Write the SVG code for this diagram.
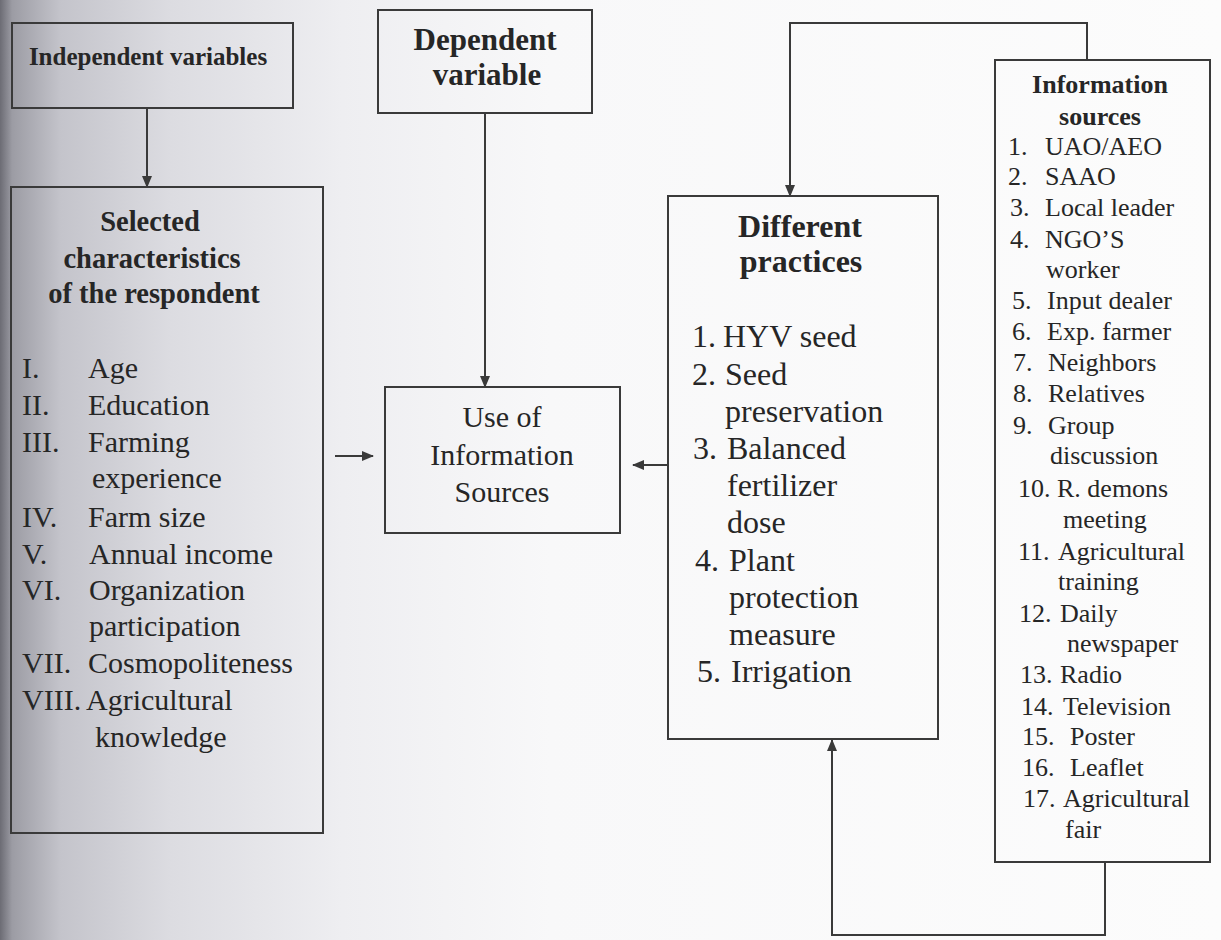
<svg xmlns="http://www.w3.org/2000/svg" width="1221" height="940" viewBox="0 0 1221 940">
  <defs>
    <linearGradient id="bg" x1="0" y1="0" x2="1" y2="0">
      <stop offset="0" stop-color="#6c6c74"/>
      <stop offset="0.01" stop-color="#9c9ca4"/>
      <stop offset="0.05" stop-color="#c4c4cb"/>
      <stop offset="0.14" stop-color="#dcdce1"/>
      <stop offset="0.28" stop-color="#eeeef1"/>
      <stop offset="0.45" stop-color="#f8f8f9"/>
      <stop offset="1" stop-color="#fcfcfc"/>
    </linearGradient>
    <marker id="arr" viewBox="0 0 12 12" refX="11" refY="6" markerWidth="12" markerHeight="12" markerUnits="userSpaceOnUse" orient="auto">
      <path d="M0,1 L12,6 L0,11 Z" fill="#3a3a3a"/>
    </marker>
    <style>
      .box { fill: none; stroke: #3a3a3a; stroke-width: 2; }
      .line { fill: none; stroke: #3a3a3a; stroke-width: 2; }
      text { font-family: "Liberation Serif", "Times New Roman", serif; fill: #262626; }
      .b { font-weight: bold; }
      .c { text-anchor: middle; }
      .l30 { font-size: 30px; }
      .p32 { font-size: 32px; }
      .s26 { font-size: 26px; }
    </style>
  </defs>
  <rect x="0" y="0" width="1221" height="940" fill="url(#bg)"/>

  <g id="connectors">
    <line class="line" x1="147" y1="108" x2="147" y2="187" marker-end="url(#arr)"/>
    <line class="line" x1="485" y1="113" x2="485" y2="387" marker-end="url(#arr)"/>
    <line class="line" x1="335" y1="456" x2="373" y2="456" marker-end="url(#arr)"/>
    <line class="line" x1="668" y1="465" x2="633" y2="465" marker-end="url(#arr)"/>
    <polyline class="line" points="1087,60 1087,23 790,23 790,196" marker-end="url(#arr)"/>
    <polyline class="line" points="1105,862 1105,935 832,935 832,740" marker-end="url(#arr)"/>
  </g>

  <g id="independent">
    <rect class="box" x="12" y="23" width="281" height="85"/>
    <text class="b c" x="148" y="65" font-size="25">Independent variables</text>
  </g>

  <g id="dependent">
    <rect class="box" x="378" y="10" width="214" height="103"/>
    <text class="b c" x="485" y="50" font-size="31">Dependent</text>
    <text class="b c" x="487" y="85" font-size="31">variable</text>
  </g>

  <g id="characteristics">
    <rect class="box" x="11" y="187" width="312" height="646"/>
    <text class="b c" x="150" y="231" font-size="28.5">Selected</text>
    <text class="b c" x="152" y="268" font-size="28.5">characteristics</text>
    <text class="b c" x="154" y="303" font-size="28.5">of the respondent</text>
    <g class="l30">
      <text x="22" y="378">I.</text><text x="88" y="378">Age</text>
      <text x="22" y="415">II.</text><text x="88" y="415">Education</text>
      <text x="22" y="452">III.</text><text x="88" y="452">Farming</text>
      <text x="92" y="488">experience</text>
      <text x="22" y="527">IV.</text><text x="88" y="527">Farm size</text>
      <text x="22" y="564">V.</text><text x="89" y="564">Annual income</text>
      <text x="22" y="600">VI.</text><text x="89" y="600">Organization</text>
      <text x="89" y="636">participation</text>
      <text x="22" y="673">VII.</text><text x="88" y="673">Cosmopoliteness</text>
      <text x="22" y="710">VIII.</text><text x="86" y="710">Agricultural</text>
      <text x="95" y="747">knowledge</text>
    </g>
  </g>

  <g id="use-of-information">
    <rect class="box" x="385" y="387" width="235" height="146"/>
    <text class="c" x="502" y="427" font-size="30">Use of</text>
    <text class="c" x="502" y="465" font-size="30">Information</text>
    <text class="c" x="502" y="502" font-size="30">Sources</text>
  </g>

  <g id="practices">
    <rect class="box" x="668" y="196" width="270" height="543"/>
    <text class="b c" x="800" y="237" font-size="32">Different</text>
    <text class="b c" x="801" y="272" font-size="32">practices</text>
    <g class="p32">
      <text x="692" y="347">1.</text><text x="723" y="347">HYV seed</text>
      <text x="692" y="385">2.</text><text x="725" y="385">Seed</text>
      <text x="725" y="422">preservation</text>
      <text x="693" y="459">3.</text><text x="727" y="459">Balanced</text>
      <text x="727" y="496">fertilizer</text>
      <text x="727" y="533">dose</text>
      <text x="695" y="571">4.</text><text x="729" y="571">Plant</text>
      <text x="729" y="608">protection</text>
      <text x="729" y="645">measure</text>
      <text x="697" y="682">5.</text><text x="731" y="682">Irrigation</text>
    </g>
  </g>

  <g id="information-sources">
    <rect class="box" x="995" y="60" width="215" height="802"/>
    <text class="b c" x="1100" y="93" font-size="26">Information</text>
    <text class="b c" x="1100" y="125" font-size="26">sources</text>
    <g class="s26">
      <text x="1008" y="155">1.</text><text x="1045" y="155">UAO/AEO</text>
      <text x="1008" y="185">2.</text><text x="1045" y="185">SAAO</text>
      <text x="1010" y="216">3.</text><text x="1045" y="216">Local leader</text>
      <text x="1010" y="248">4.</text><text x="1045" y="248">NGO’S</text>
      <text x="1046" y="278">worker</text>
      <text x="1012" y="309">5.</text><text x="1047" y="309">Input dealer</text>
      <text x="1012" y="340">6.</text><text x="1047" y="340">Exp. farmer</text>
      <text x="1013" y="371">7.</text><text x="1048" y="371">Neighbors</text>
      <text x="1013" y="402">8.</text><text x="1048" y="402">Relatives</text>
      <text x="1013" y="434">9.</text><text x="1048" y="434">Group</text>
      <text x="1050" y="464">discussion</text>
      <text x="1018" y="497">10.</text><text x="1057" y="497">R. demons</text>
      <text x="1063" y="528">meeting</text>
      <text x="1018" y="560">11.</text><text x="1058" y="560">Agricultural</text>
      <text x="1058" y="590">training</text>
      <text x="1019" y="622">12.</text><text x="1060" y="622">Daily</text>
      <text x="1067" y="652">newspaper</text>
      <text x="1020" y="683">13.</text><text x="1060" y="683">Radio</text>
      <text x="1021" y="715">14.</text><text x="1063" y="715">Television</text>
      <text x="1022" y="745">15.</text><text x="1070" y="745">Poster</text>
      <text x="1022" y="776">16.</text><text x="1070" y="776">Leaflet</text>
      <text x="1023" y="807">17.</text><text x="1063" y="807">Agricultural</text>
      <text x="1065" y="838">fair</text>
    </g>
  </g>
</svg>
